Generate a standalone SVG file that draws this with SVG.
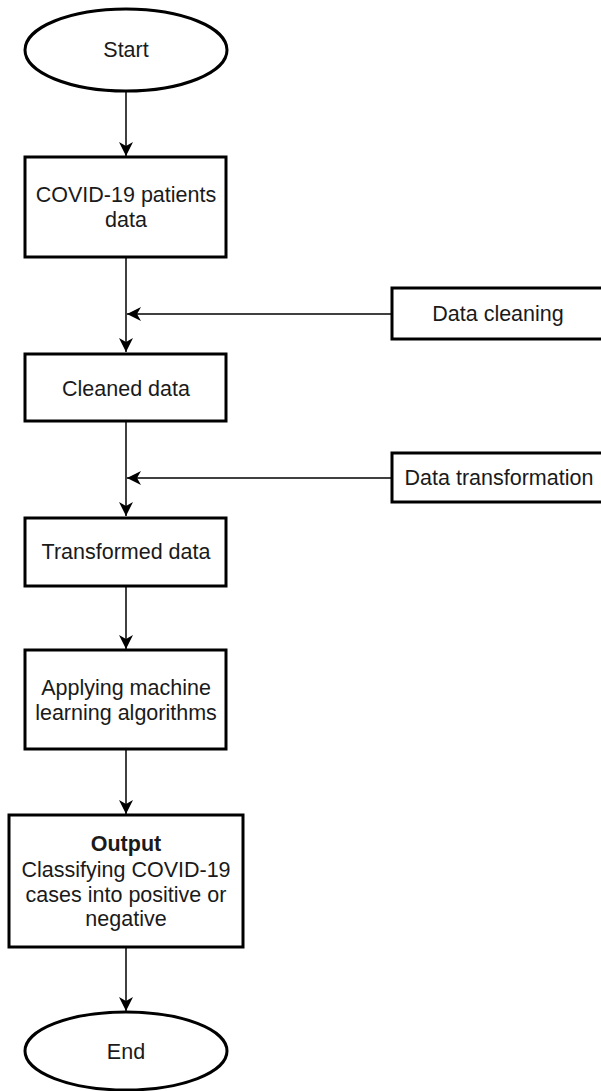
<svg xmlns="http://www.w3.org/2000/svg" width="601" height="1091" viewBox="0 0 601 1091">
<style>
.n{fill:#fff;stroke:#000;stroke-width:3}
.t{font-family:"Liberation Sans",Arial,sans-serif;font-size:21.5px;fill:#1a1a1a;text-anchor:middle}
.b{font-weight:bold}
.c{fill:none;stroke:#000;stroke-width:1.5}
</style>
<defs>
<marker id="ah" markerUnits="userSpaceOnUse" markerWidth="16" markerHeight="16" refX="14" refY="8" orient="auto">
<path d="M0,1 L14,8 L0,15 L4,8 Z" fill="#000"/>
</marker>
</defs>
<rect width="601" height="1091" fill="#fff"/>
<g id="connectors">
<line class="c" x1="126" y1="92" x2="126" y2="156" marker-end="url(#ah)"/>
<line class="c" x1="126" y1="257" x2="126" y2="352" marker-end="url(#ah)"/>
<line class="c" x1="391" y1="314" x2="127" y2="314" marker-end="url(#ah)"/>
<line class="c" x1="126" y1="421" x2="126" y2="516" marker-end="url(#ah)"/>
<line class="c" x1="391" y1="478" x2="127" y2="478" marker-end="url(#ah)"/>
<line class="c" x1="126" y1="586" x2="126" y2="649" marker-end="url(#ah)"/>
<line class="c" x1="126" y1="749" x2="126" y2="814" marker-end="url(#ah)"/>
<line class="c" x1="126" y1="947" x2="126" y2="1011" marker-end="url(#ah)"/>
</g>
<g id="start">
<ellipse class="n" cx="126" cy="50" rx="101" ry="41"/>
<text class="t" x="126" y="57">Start</text>
</g>
<g id="patients">
<rect class="n" x="25" y="157" width="201" height="100"/>
<text class="t" x="126" y="202">COVID-19 patients</text>
<text class="t" x="126" y="227">data</text>
</g>
<g id="cleaning">
<rect class="n" x="392" y="288" width="220" height="51"/>
<text class="t" x="498" y="321">Data cleaning</text>
</g>
<g id="cleaned">
<rect class="n" x="25" y="354" width="201" height="67"/>
<text class="t" x="126" y="396">Cleaned data</text>
</g>
<g id="transformation">
<rect class="n" x="392" y="453" width="220" height="49"/>
<text class="t" x="499" y="485">Data transformation</text>
</g>
<g id="transformed">
<rect class="n" x="25" y="518" width="201" height="68"/>
<text class="t" x="126" y="559">Transformed data</text>
</g>
<g id="applying">
<rect class="n" x="25" y="650" width="201" height="99"/>
<text class="t" x="126" y="695">Applying machine</text>
<text class="t" x="126" y="720">learning algorithms</text>
</g>
<g id="output">
<rect class="n" x="9" y="815" width="234" height="132"/>
<text class="t b" x="126" y="851">Output</text>
<text class="t" x="126" y="877">Classifying COVID-19</text>
<text class="t" x="126" y="902">cases into positive or</text>
<text class="t" x="126" y="926">negative</text>
</g>
<g id="end">
<ellipse class="n" cx="126" cy="1051" rx="101" ry="39"/>
<text class="t" x="126" y="1059">End</text>
</g>
</svg>
